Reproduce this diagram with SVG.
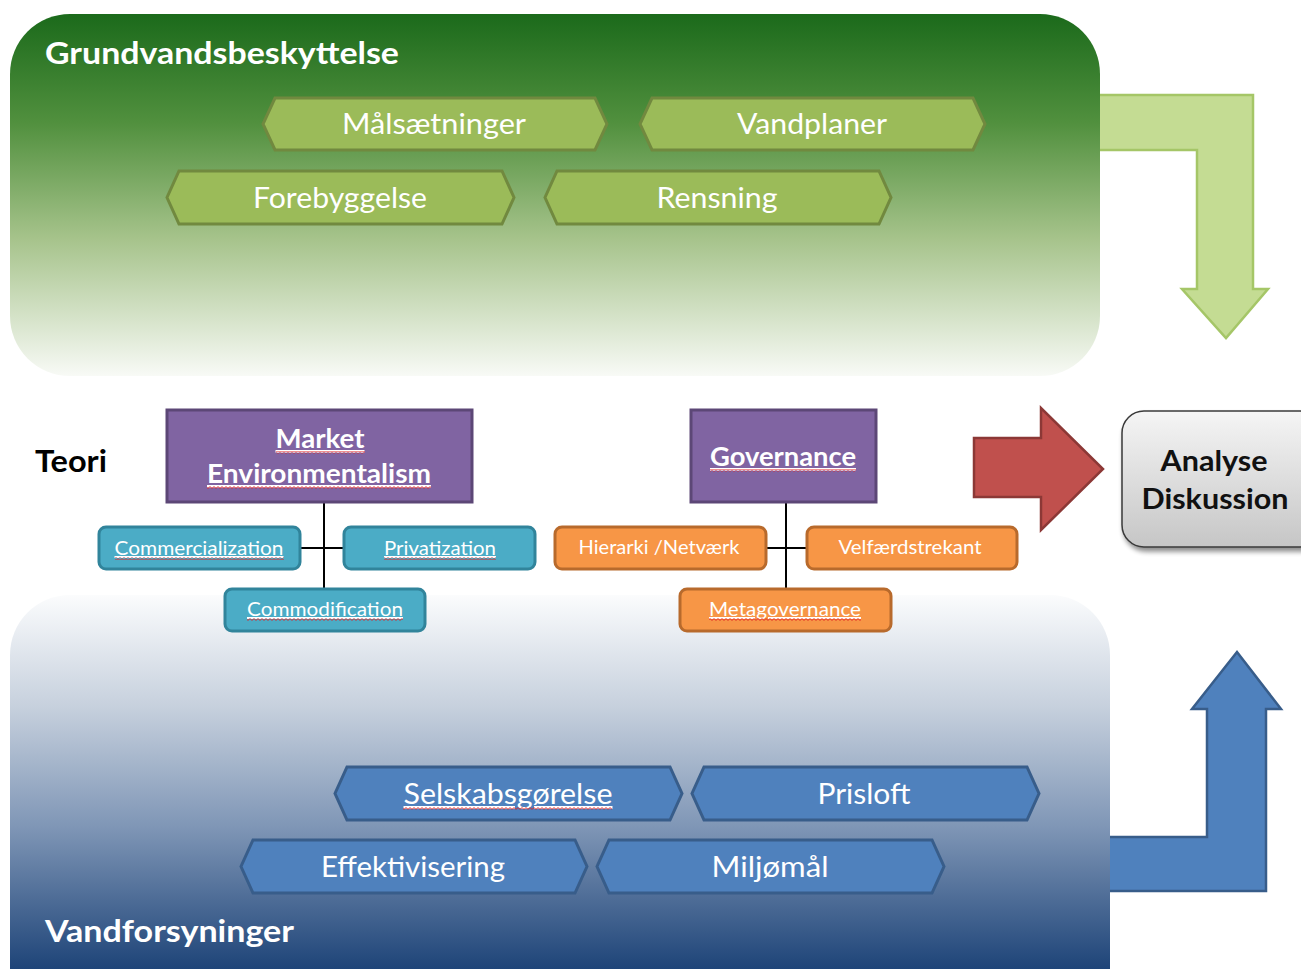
<svg xmlns="http://www.w3.org/2000/svg" width="1301" height="969" viewBox="0 0 1301 969">
  <defs>
    <linearGradient id="gradGreen" x1="0" y1="14" x2="0" y2="376" gradientUnits="userSpaceOnUse">
      <stop offset="0" stop-color="#1b6a1b"/>
      <stop offset="0.3" stop-color="#51903e"/>
      <stop offset="0.62" stop-color="#a6c38b"/>
      <stop offset="1" stop-color="#f8faf6"/>
    </linearGradient>
    <linearGradient id="gradBlue" x1="0" y1="595" x2="0" y2="969" gradientUnits="userSpaceOnUse">
      <stop offset="0" stop-color="#fbfcfd"/>
      <stop offset="0.3" stop-color="#c6d0dd"/>
      <stop offset="0.62" stop-color="#7f96b6"/>
      <stop offset="1" stop-color="#1e4478"/>
    </linearGradient>
    <linearGradient id="gradGrey" x1="0" y1="0" x2="0" y2="1">
      <stop offset="0" stop-color="#f5f5f5"/>
      <stop offset="1" stop-color="#c6c6c6"/>
    </linearGradient>
    <filter id="shadow" x="-20%" y="-20%" width="140%" height="150%">
      <feGaussianBlur in="SourceAlpha" stdDeviation="2.5"/>
      <feOffset dx="2" dy="4" result="b"/>
      <feComponentTransfer><feFuncA type="linear" slope="0.45"/></feComponentTransfer>
      <feMerge><feMergeNode/><feMergeNode in="SourceGraphic"/></feMerge>
    </filter>
    <pattern id="squiggle" width="4" height="3" patternUnits="userSpaceOnUse">
      <path d="M0,2.4 L2,0.6 L4,2.4" fill="none" stroke="#e02020" stroke-width="0.9"/>
    </pattern>
    <style>
      .title { font-family: Lato, "Liberation Sans", sans-serif; font-weight: bold; font-size: 30px; fill: #ffffff; }
      .hexG { fill: #9bbb59; stroke: #71893f; stroke-width: 3; }
      .hexB { fill: #4f81bd; stroke: #385d8a; stroke-width: 3; }
      .hexText { font-family: Lato, "Liberation Sans", sans-serif; font-size: 28px; fill: #ffffff; text-anchor: middle; }
      .purple { fill: #8064a2; stroke: #5c4776; stroke-width: 3; }
      .teal { fill: #4bacc6; stroke: #31849b; stroke-width: 3; }
      .orange { fill: #f79646; stroke: #b86a2c; stroke-width: 3; }
      .boxTitle { font-family: Lato, "Liberation Sans", sans-serif; font-weight: bold; font-size: 26px; fill: #ffffff; text-anchor: middle; text-decoration: underline; }
      .small { font-family: Lato, "Liberation Sans", sans-serif; font-size: 19px; fill: #ffffff; text-anchor: middle; }
      .ul { text-decoration: underline; }
      .squig { fill: url(#squiggle); }
      .conn { stroke: #000000; stroke-width: 2; fill: none; }
      .dark { font-family: Lato, "Liberation Sans", sans-serif; font-weight: bold; font-size: 28px; fill: #111111; text-anchor: middle; }
    </style>
  </defs>

  <rect width="1301" height="969" fill="#ffffff"/>

  <!-- bent arrows (drawn first so the panels cover their tails) -->
  <g id="arrow-green">
    <path d="M1090,95 H1253 V289 H1268 L1226,338 L1182,289 H1197 V150 H1090 Z" fill="#c4dc93" stroke="#a5c667" stroke-width="2.5" stroke-linejoin="miter"/>
  </g>
  <g id="arrow-blue">
    <path d="M1100,837 H1207 V709 H1192 L1237,652 L1281,709 H1266 V891 H1100 Z" fill="#4f81bd" stroke="#385d8a" stroke-width="2.5"/>
  </g>

  <!-- panels -->
  <g id="panel-grundvand">
    <rect x="10" y="14" width="1090" height="362" rx="60" fill="url(#gradGreen)"/>
    <text class="title" x="45" y="64" textLength="354" lengthAdjust="spacingAndGlyphs">Grundvandsbeskyttelse</text>
  </g>
  <g id="panel-vandforsyning">
    <rect x="10" y="595" width="1100" height="450" rx="60" fill="url(#gradBlue)"/>
    <text class="title" x="45" y="942" textLength="249" lengthAdjust="spacingAndGlyphs">Vandforsyninger</text>
  </g>

  <!-- green hexagons -->
  <g id="hex-maalsaetninger">
    <path class="hexG" d="M275,98 H595 L607,124 L595,150 H275 L263,124 Z"/>
    <text class="hexText" x="434" y="134" textLength="184" lengthAdjust="spacingAndGlyphs">Målsætninger</text>
  </g>
  <g id="hex-vandplaner">
    <path class="hexG" d="M652,98 H973 L985,124 L973,150 H652 L640,124 Z"/>
    <text class="hexText" x="812" y="134" textLength="150" lengthAdjust="spacingAndGlyphs">Vandplaner</text>
  </g>
  <g id="hex-forebyggelse">
    <path class="hexG" d="M179,171 H502 L514,197.5 L502,224 H179 L167,197.5 Z"/>
    <text class="hexText" x="340" y="208" textLength="174" lengthAdjust="spacingAndGlyphs">Forebyggelse</text>
  </g>
  <g id="hex-rensning">
    <path class="hexG" d="M557,171 H879 L891,197.5 L879,224 H557 L545,197.5 Z"/>
    <text class="hexText" x="717" y="208" textLength="121" lengthAdjust="spacingAndGlyphs">Rensning</text>
  </g>

  <!-- blue hexagons -->
  <g id="hex-selskabsgoerelse">
    <path class="hexB" d="M347,767 H670 L682,793.5 L670,820 H347 L335,793.5 Z"/>
    <text class="hexText ul" x="508" y="804" textLength="209" lengthAdjust="spacingAndGlyphs">Selskabsgørelse</text>
    <rect class="squig" x="403" y="807" width="209" height="3"/>
  </g>
  <g id="hex-prisloft">
    <path class="hexB" d="M704,767 H1027 L1039,793.5 L1027,820 H704 L692,793.5 Z"/>
    <text class="hexText" x="864" y="804" textLength="93" lengthAdjust="spacingAndGlyphs">Prisloft</text>
  </g>
  <g id="hex-effektivisering">
    <path class="hexB" d="M253,840 H575 L587,866.5 L575,893 H253 L241,866.5 Z"/>
    <text class="hexText" x="413" y="877" textLength="184" lengthAdjust="spacingAndGlyphs">Effektivisering</text>
  </g>
  <g id="hex-miljoemaal">
    <path class="hexB" d="M609,840 H932 L944,866.5 L932,893 H609 L597,866.5 Z"/>
    <text class="hexText" x="770" y="877" textLength="117" lengthAdjust="spacingAndGlyphs">Miljømål</text>
  </g>

  <!-- theory label -->
  <g id="label-teori">
    <text x="35" y="472" font-family="Lato, 'Liberation Sans', sans-serif" font-weight="bold" font-size="30" fill="#000000" textLength="72" lengthAdjust="spacingAndGlyphs">Teori</text>
  </g>

  <!-- tree connectors -->
  <g id="connectors">
    <path class="conn" d="M324,502 V589 M300,548 H344"/>
    <path class="conn" d="M786,502 V589 M766,548 H807"/>
  </g>

  <!-- Market Environmentalism branch -->
  <g id="node-market">
    <rect class="purple" x="167" y="410" width="305" height="92"/>
    <text class="boxTitle" x="320" y="448" textLength="89" lengthAdjust="spacingAndGlyphs">Market</text>
    <text class="boxTitle" x="319" y="483" textLength="224" lengthAdjust="spacingAndGlyphs">Environmentalism</text>
    <rect class="squig" x="276" y="451" width="89" height="3"/>
    <rect class="squig" x="207" y="486" width="224" height="3"/>
  </g>
  <g id="node-commercialization">
    <rect class="teal" x="99" y="527" width="201" height="42" rx="7"/>
    <text class="small ul" x="199" y="555" textLength="169" lengthAdjust="spacingAndGlyphs">Commercialization</text>
    <rect class="squig" x="115" y="557" width="169" height="3"/>
  </g>
  <g id="node-privatization">
    <rect class="teal" x="344" y="527" width="191" height="42" rx="7"/>
    <text class="small ul" x="440" y="555" textLength="112" lengthAdjust="spacingAndGlyphs">Privatization</text>
    <rect class="squig" x="384" y="557" width="112" height="3"/>
  </g>
  <g id="node-commodification">
    <rect class="teal" x="225" y="589" width="200" height="42" rx="7"/>
    <text class="small ul" x="325" y="616" textLength="156" lengthAdjust="spacingAndGlyphs">Commodification</text>
    <rect class="squig" x="247" y="618" width="156" height="3"/>
  </g>

  <!-- Governance branch -->
  <g id="node-governance">
    <rect class="purple" x="691" y="410" width="185" height="92"/>
    <text class="boxTitle" x="783" y="466" textLength="146" lengthAdjust="spacingAndGlyphs">Governance</text>
    <rect class="squig" x="710" y="469" width="146" height="3"/>
  </g>
  <g id="node-hierarki">
    <rect class="orange" x="555" y="527" width="211" height="42" rx="7"/>
    <text class="small" x="659" y="554" textLength="161" lengthAdjust="spacingAndGlyphs">Hierarki /Netværk</text>
  </g>
  <g id="node-velfaerd">
    <rect class="orange" x="807" y="527" width="210" height="42" rx="7"/>
    <text class="small" x="910" y="554" textLength="143" lengthAdjust="spacingAndGlyphs">Velfærdstrekant</text>
  </g>
  <g id="node-metagovernance">
    <rect class="orange" x="680" y="589" width="211" height="42" rx="7"/>
    <text class="small ul" x="785" y="616" textLength="152" lengthAdjust="spacingAndGlyphs">Metagovernance</text>
    <rect class="squig" x="709" y="618" width="152" height="3"/>
  </g>

  <!-- arrow to analysis -->
  <g id="arrow-red">
    <path d="M974,438 H1041 V408 L1103,469 L1041,530 V497 H974 Z" fill="#c0504d" stroke="#8c3836" stroke-width="2.5"/>
  </g>

  <g id="node-analyse">
    <rect x="1122" y="411" width="200" height="136" rx="22" fill="url(#gradGrey)" stroke="#3a3a3a" stroke-width="1.5" filter="url(#shadow)"/>
    <text class="dark" x="1214" y="471" textLength="107" lengthAdjust="spacingAndGlyphs">Analyse</text>
    <text class="dark" x="1215" y="509" textLength="147" lengthAdjust="spacingAndGlyphs">Diskussion</text>
  </g>
</svg>
